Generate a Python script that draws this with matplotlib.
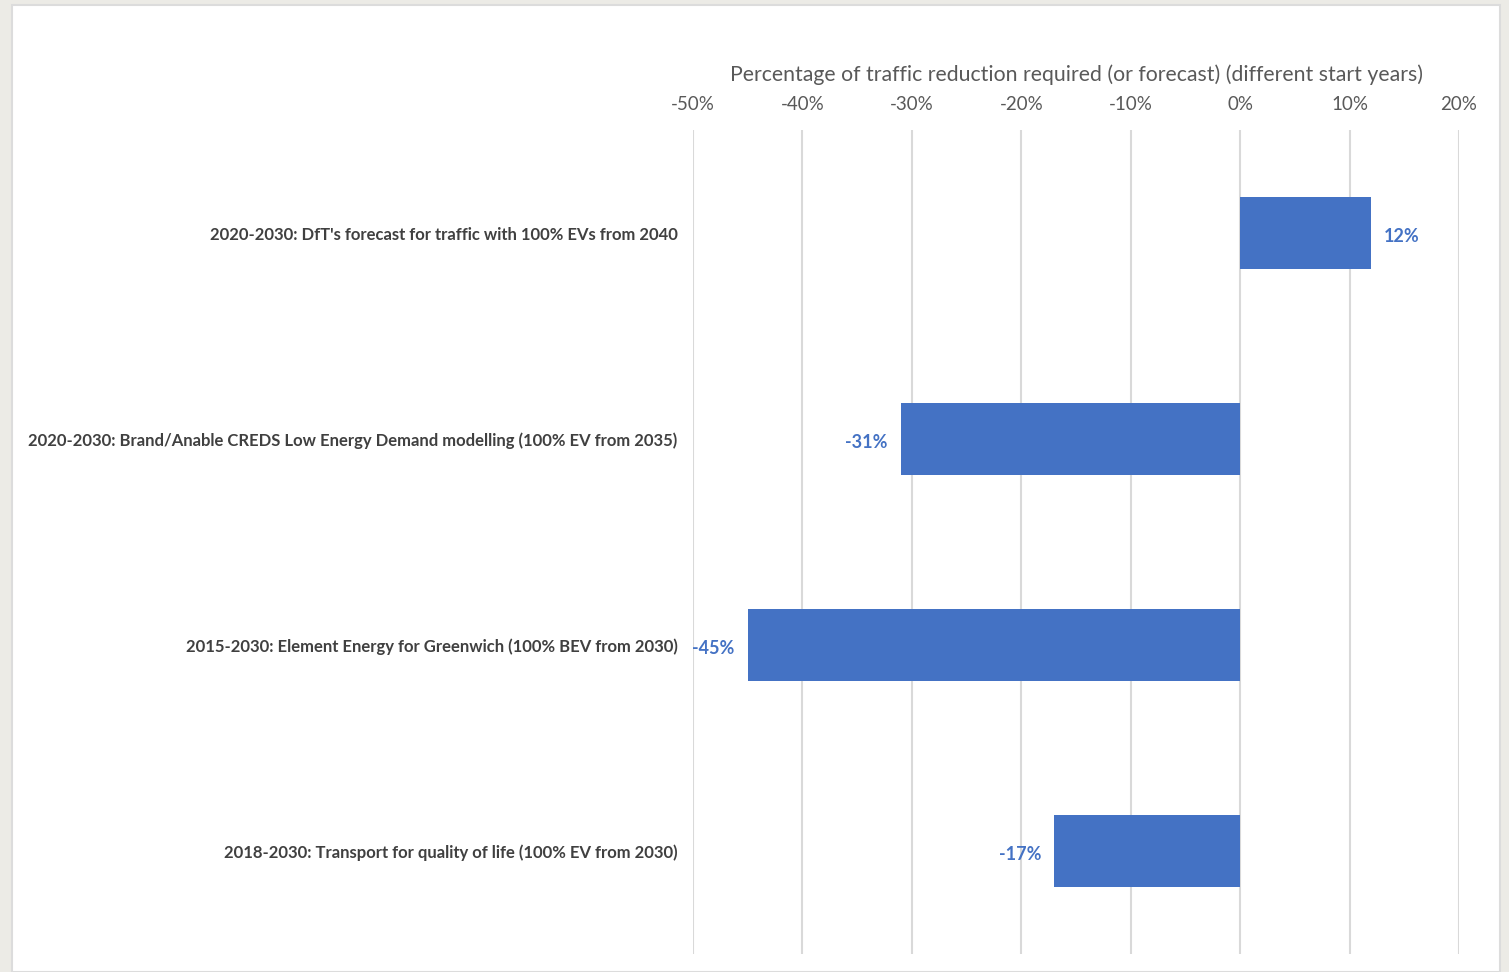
import numpy as np
import matplotlib.pyplot as plt
from matplotlib.patches import Rectangle

# data
categories = ["2020-2030: DfT's forecast for traffic with 100% EVs from 2040",
              "2020-2030: Brand/Anable CREDS Low Energy Demand modelling (100% EV from 2035)",
              "2015-2030: Element Energy for Greenwich (100% BEV from 2030)",
              "2018-2030: Transport for quality of life (100% EV from 2030)"]
values = [12, -31, -45, -17]
tick_values = [-50, -40, -30, -20, -10, 0, 10, 20]
x_title = "Percentage of traffic reduction required (or forecast) (different start years)"

blue = '#4472C4'
font = ['Lato', 'DejaVu Sans']

fig = plt.figure(figsize=(15.09, 9.72), dpi=100)
fig.patch.set_facecolor('#ecebe6')
# white chart panel
fig.patches.append(Rectangle((12/1509, 0), (1500-12)/1509, 1-5/972,
                             transform=fig.transFigure, facecolor='white',
                             edgecolor='#dcdcdc', linewidth=1.5, zorder=-10))

ax = fig.add_axes([693/1509, 18/972, 766/1509, 824/972])
ax.set_facecolor('none')
y = np.arange(len(categories))
ax.barh(y, values, height=0.35, color=blue, zorder=3)

ax.set_xlim(-50, 20)
ax.set_ylim(len(categories)-0.5, -0.5)
ax.set_xticks(tick_values)
ax.set_xticklabels([f"{v}%" for v in tick_values], fontsize=13.5, color='#595959', family=font)
ax.xaxis.tick_top()
ax.xaxis.set_label_position('top')
ax.set_xlabel(x_title, fontsize=15.3, color='#595959', family=font, labelpad=11)
ax.tick_params(axis='x', length=0, pad=12)
ax.set_yticks(y)
ax.set_yticklabels(categories, fontsize=12, color='#404040', family=font, fontweight='bold')
ax.tick_params(axis='y', length=0, pad=11)
ax.grid(axis='x', color='#d9d9d9', linewidth=1.5, zorder=0)
for s in ax.spines.values():
    s.set_visible(False)

for yi, v in zip(y, values):
    if v >= 0:
        ax.annotate(f"{v}%", (v, yi), xytext=(12, -3), textcoords='offset pixels',
                    ha='left', va='center', color=blue, fontsize=13, fontweight='bold', family=font)
    else:
        ax.annotate(f"{v}%", (v, yi), xytext=(-13, -3), textcoords='offset pixels',
                    ha='right', va='center', color=blue, fontsize=13, fontweight='bold', family=font)

fig.savefig('out.png', dpi=100, facecolor=fig.get_facecolor())
